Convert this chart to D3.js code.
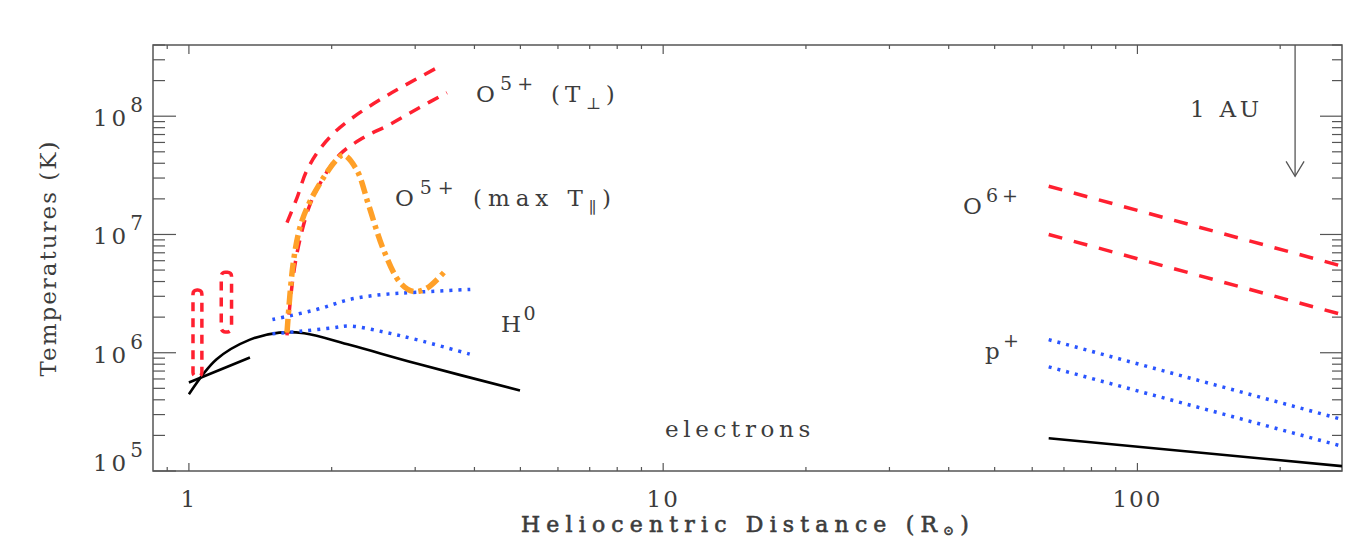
<!DOCTYPE html>
<html>
<head>
<meta charset="utf-8">
<script src="https://cdn.jsdelivr.net/npm/d3@7"></script>
<style>
  body { margin: 0; background: #fff; }
  text { font-family: "DejaVu Serif", serif; fill: #3c3c3c; }
</style>
</head>
<body>
<script>
// heliocentric distance (R_sun), temperature (K)
const o5PerpHigh = [[1.61, 1.26e7], [1.69, 2.04e7], [1.77, 3.43e7], [1.89, 5.3e7], [2.05, 7.6e7], [2.26, 1.03e8], [2.53, 1.38e8], [2.83, 1.79e8], [3.33, 2.56e8]];
const o5PerpLow = [[1.61, 1.4e6], [1.66, 4.5e6], [1.715, 9.1e6], [1.80, 1.79e7], [1.92, 3.0e7], [2.08, 4.74e7], [2.33, 6.56e7], [2.65, 8.5e7], [3.06, 1.18e8], [3.50, 1.58e8]];
const o5MaxPar = [[1.61, 1.48e6], [1.66, 5.8e6], [1.72, 1.2e7], [1.80, 1.9e7], [1.92, 3.0e7], [2.05, 4.3e7], [2.12, 4.7e7], [2.26, 3.5e7], [2.39, 1.8e7], [2.57, 7.5e6], [2.79, 3.9e6], [2.97, 3.3e6], [3.17, 3.5e6], [3.50, 5.1e6]];
const h0High = [[1.50, 1.91e6], [1.86, 2.32e6], [2.19, 2.83e6], [2.57, 3.11e6], [3.02, 3.25e6], [3.92, 3.43e6]];
const h0Low = [[1.50, 1.45e6], [1.72, 1.52e6], [2.0, 1.62e6], [2.19, 1.68e6], [2.57, 1.5e6], [3.02, 1.29e6], [3.92, 9.7e5]];
const electronsInner = [[1.0, 4.45e5], [1.144, 8.8e5], [1.345, 1.29e6], [1.55, 1.48e6], [1.75, 1.46e6], [2.19, 1.16e6], [3.02, 8.1e5], [4.99, 4.8e5]];
const electronsLow = [[1.0, 5.6e5], [1.345, 9.1e5]];
// O5+ ranges near the limb: [x0, x1, Tmin, Tmax]
const o5Boxes = [[1.02, 1.065, 6.3e5, 3.4e6], [1.17, 1.23, 1.5e6, 4.8e6]];
// solar wind (in situ) power laws
const o6High = [[65, 2.56e7], [270, 5.4e6]];
const o6Low = [[65, 1.0e7], [270, 2.1e6]];
const pHigh = [[65, 1.29e6], [270, 2.73e5]];
const pLow = [[65, 7.6e5], [270, 1.62e5]];
const electronsWind = [[65, 1.89e5], [270, 1.10e5]];
const auDistance = 215;
const auArrowTip = 3.1e7;
const yLabels = [1e5, 1e6, 1e7, 1e8];
const xLabels = [1, 10, 100];

const width = 1345, height = 540;
const mLeft = 153, mRight = 1342, mTop = 45, mBottom = 471;

const x = d3.scaleLog().domain([0.84, 270]).range([mLeft, mRight]);
const y = d3.scaleLog().domain([1e5, 4e8]).range([mBottom, mTop]);

const svg = d3.select("body").append("svg")
  .attr("width", width)
  .attr("height", height);

svg.append("clipPath").attr("id", "plot")
  .append("rect")
  .attr("x", mLeft).attr("y", mTop)
  .attr("width", mRight - mLeft).attr("height", mBottom - mTop);

const isMajor = (v) => Math.abs(Math.log10(v) - Math.round(Math.log10(v))) < 1e-9;
const axisColor = "#555";

// stretch a text to the width it has in the original figure
function fit(t, w) {
  t.attr("letter-spacing", 0);
  const node = t.node();
  const natural = node.getComputedTextLength();
  t.attr("letter-spacing", (w - natural) / node.getNumberOfChars());
  return t;
}

// frame
svg.append("rect")
  .attr("x", mLeft).attr("y", mTop)
  .attr("width", mRight - mLeft).attr("height", mBottom - mTop)
  .attr("fill", "none").attr("stroke", axisColor).attr("stroke-width", 1.5);

// x ticks (bottom and top)
const xt = x.ticks().filter((v) => v >= 0.84 && v <= 270);
svg.selectAll(".xtb").data(xt).enter().append("line")
  .attr("x1", (d) => x(d)).attr("x2", (d) => x(d))
  .attr("y1", mBottom).attr("y2", (d) => mBottom - (isMajor(d) ? 8 : 4))
  .attr("stroke", axisColor).attr("stroke-width", 1.2);
svg.selectAll(".xtt").data(xt).enter().append("line")
  .attr("x1", (d) => x(d)).attr("x2", (d) => x(d))
  .attr("y1", mTop).attr("y2", (d) => mTop + (isMajor(d) ? 9 : 4))
  .attr("stroke", axisColor).attr("stroke-width", 1.2);

// y ticks (left and right)
const yt = y.ticks().filter((v) => v >= 1e5 && v <= 4e8);
svg.selectAll(".ytl").data(yt).enter().append("line")
  .attr("x1", mLeft).attr("x2", (d) => mLeft + (isMajor(d) ? 23 : 12))
  .attr("y1", (d) => y(d)).attr("y2", (d) => y(d))
  .attr("stroke", axisColor).attr("stroke-width", 1.2);
svg.selectAll(".ytr").data(yt).enter().append("line")
  .attr("x1", mRight).attr("x2", (d) => mRight - (isMajor(d) ? 22 : 10))
  .attr("y1", (d) => y(d)).attr("y2", (d) => y(d))
  .attr("stroke", axisColor).attr("stroke-width", 1.2);

// tick labels
svg.selectAll(".xl").data(xLabels).enter().append("text")
  .attr("x", (d) => x(d)).attr("y", 507)
  .attr("text-anchor", "middle")
  .attr("font-size", 23).attr("letter-spacing", 2)
  .text((d) => d);

yLabels.forEach((d) => {
  const t = svg.append("text")
    .attr("x", 143).attr("y", Math.min(y(d) + 10, mBottom))
    .attr("text-anchor", "end")
    .attr("font-size", 23);
  t.append("tspan").attr("letter-spacing", 4).text("10");
  t.append("tspan").attr("dy", -14).attr("font-size", 20).text(Math.round(Math.log10(d)));
});

// axis titles
fit(svg.append("text")
  .attr("transform", "translate(56,258) rotate(-90)")
  .attr("text-anchor", "middle")
  .attr("font-size", 23)
  .text("Temperatures (K)"), 237);

const xTitle = svg.append("text")
  .attr("x", 521).attr("y", 532)
  .attr("font-size", 22)
  .attr("stroke", "#3c3c3c").attr("stroke-width", 0.6);
xTitle.append("tspan").text("Heliocentric Distance (R");
xTitle.append("tspan").attr("dy", 3).attr("font-size", 13).text("⊙");
xTitle.append("tspan").attr("dy", -3).text(")");
fit(xTitle, 454);

// curves
const plot = svg.append("g").attr("clip-path", "url(#plot)");
const line = d3.line().x((d) => x(d[0])).y((d) => y(d[1])).curve(d3.curveCatmullRom.alpha(0.5));
const straight = d3.line().x((d) => x(d[0])).y((d) => y(d[1]));

const red = "#ff2030", blue = "#2a55ff", orange = "#ffa028";

function draw(data, gen, color, w, dash) {
  plot.append("path")
    .attr("d", gen(data))
    .attr("fill", "none")
    .attr("stroke", color)
    .attr("stroke-width", w)
    .attr("stroke-dasharray", dash);
}

draw(electronsInner, line, "#000", 2.6, null);
draw(electronsLow, straight, "#000", 2.6, null);
draw(h0High, line, blue, 3.5, "3,6");
draw(h0Low, line, blue, 3.5, "3,6");
draw(o5PerpHigh, line, red, 3.5, "12,9");
draw(o5PerpLow, line, red, 3.5, "12,9");
draw(o5MaxPar, line, orange, 5.5, "14,5,4,5");

o5Boxes.forEach(([x0, x1, t0, t1]) => {
  plot.append("rect")
    .attr("x", x(x0)).attr("y", y(t1))
    .attr("width", x(x1) - x(x0)).attr("height", y(t0) - y(t1))
    .attr("rx", 4)
    .attr("fill", "none")
    .attr("stroke", red)
    .attr("stroke-width", 3.5)
    .attr("stroke-dasharray", "9,7");
});

draw(o6High, straight, red, 3.5, "14,12");
draw(o6Low, straight, red, 3.5, "14,12");
draw(pHigh, straight, blue, 3.5, "3,6");
draw(pLow, straight, blue, 3.5, "3,6");
draw(electronsWind, straight, "#000", 2.6, null);

// 1 AU arrow
const ax = x(auDistance), ay = y(auArrowTip);
svg.append("line")
  .attr("x1", ax).attr("x2", ax).attr("y1", mTop).attr("y2", ay)
  .attr("stroke", axisColor).attr("stroke-width", 1.3);
svg.append("path")
  .attr("d", `M${ax - 9},${ay - 15}L${ax},${ay}L${ax + 9},${ay - 15}`)
  .attr("fill", "none").attr("stroke", axisColor).attr("stroke-width", 1.3);

// labels
function label(px, py, w, parts) {
  const t = svg.append("text")
    .attr("x", px).attr("y", py)
    .attr("font-size", 23);
  let shift = 0;
  parts.forEach(([s, k]) => {
    const target = k === "sup" ? -12 : k === "sub" ? 7 : 0;
    t.append("tspan")
      .attr("dy", target - shift)
      .attr("font-size", k === "sup" ? 19 : k === "sub" ? 16 : 23)
      .text(s);
    shift = target;
  });
  fit(t, w);
}

label(476, 102, 144, [["O", "n"], ["5+", "sup"], [" (T", "n"], ["⊥", "sub"], [")", "n"]]);
label(395, 206, 222, [["O", "n"], ["5+", "sup"], [" (max T", "n"], ["∥", "sub"], [")", "n"]]);
label(501, 332, 37, [["H", "n"], ["0", "sup"]]);
label(963, 214, 59, [["O", "n"], ["6+", "sup"]]);
label(985, 359, 37, [["p", "n"], ["+", "sup"]]);
label(665, 437, 150, [["electrons", "n"]]);
label(1190, 117, 73, [["1 AU", "n"]]);
</script>
</body>
</html>
